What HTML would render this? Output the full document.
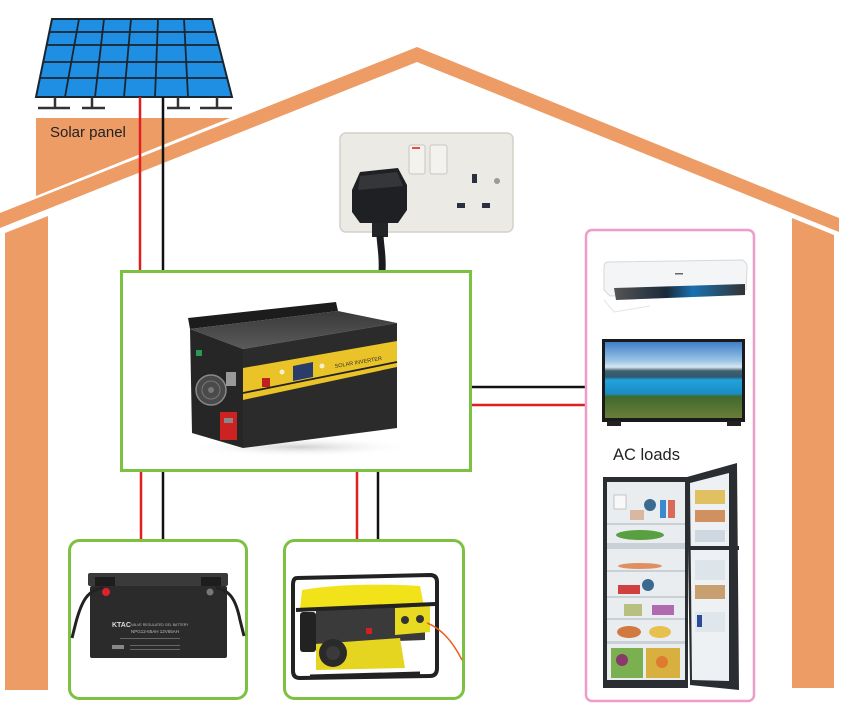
<!DOCTYPE html>
<html><head><meta charset="utf-8">
<style>
html,body{margin:0;padding:0;background:#fff;}
svg{display:block;}
text{font-family:"Liberation Sans",Arial,sans-serif;}
</style></head>
<body>
<svg width="852" height="714" viewBox="0 0 852 714" xmlns="http://www.w3.org/2000/svg">
<defs>
<linearGradient id="tv" x1="0" y1="0" x2="0" y2="1">
<stop offset="0" stop-color="#3f7fc8"/>
<stop offset="0.25" stop-color="#9cc6e6"/>
<stop offset="0.33" stop-color="#d8e8f0"/>
<stop offset="0.38" stop-color="#41606e"/>
<stop offset="0.46" stop-color="#2f5a70"/>
<stop offset="0.5" stop-color="#22a2dc"/>
<stop offset="0.68" stop-color="#1c8cc4"/>
<stop offset="0.72" stop-color="#3f6a2c"/>
<stop offset="1" stop-color="#6a7d3a"/>
</linearGradient>
<linearGradient id="acslot" x1="0" y1="0" x2="1" y2="0">
<stop offset="0" stop-color="#555"/>
<stop offset="0.4" stop-color="#1a2a3a"/>
<stop offset="0.6" stop-color="#1a70b0"/>
<stop offset="1" stop-color="#333"/>
</linearGradient>
<linearGradient id="top" x1="0" y1="0" x2="0" y2="1">
<stop offset="0" stop-color="#3a3a3a"/>
<stop offset="1" stop-color="#5a5a5a"/>
</linearGradient>
<radialGradient id="shadow" cx="0.5" cy="0.5" r="0.5">
<stop offset="0" stop-color="#cfcfcf"/>
<stop offset="1" stop-color="#ffffff" stop-opacity="0"/>
</radialGradient>
</defs>

<!-- house -->
<polygon points="36,118 230,118 36,196" fill="#EE9C66"/>
<polygon points="0,213 417,47 839,218 839,232 417,62 0,228" fill="#EE9C66"/>
<polygon points="5,233 48,216 48,690 5,690" fill="#EE9C66"/>
<polygon points="792,218 834,235 834,688 792,688" fill="#EE9C66"/>

<!-- solar panel -->
<polygon points="52,19 212,19 232,97 36,97" fill="#1E8FE3" stroke="#1b2530" stroke-width="2"/>
<g stroke="#1b2530" stroke-width="1.8">
<line x1="49.3" y1="32" x2="215.3" y2="32"/>
<line x1="46.7" y1="45" x2="218.7" y2="45"/>
<line x1="43.2" y1="62" x2="223" y2="62"/>
<line x1="39.9" y1="78" x2="227.1" y2="78"/>
<line x1="79" y1="19" x2="65" y2="97"/>
<line x1="104" y1="19" x2="95" y2="97"/>
<line x1="131" y1="19" x2="124" y2="97"/>
<line x1="158" y1="19" x2="155" y2="97"/>
<line x1="184" y1="19" x2="188" y2="97"/>
</g>
<g stroke="#333" stroke-width="2.5">
<line x1="55" y1="97" x2="55" y2="108"/><line x1="38" y1="108" x2="70" y2="108"/>
<line x1="92" y1="97" x2="92" y2="108"/><line x1="82" y1="108" x2="105" y2="108"/>
<line x1="178" y1="97" x2="178" y2="108"/><line x1="167" y1="108" x2="190" y2="108"/>
<line x1="217" y1="97" x2="217" y2="108"/><line x1="200" y1="108" x2="232" y2="108"/>
</g>
<text x="50" y="137" font-size="15" fill="#222">Solar panel</text>

<!-- wires -->
<g stroke-width="2.5">
<line x1="140" y1="97" x2="140" y2="271" stroke="#E02020"/>
<line x1="163" y1="97" x2="163" y2="271" stroke="#111"/>
<line x1="141" y1="471" x2="141" y2="540" stroke="#E02020"/>
<line x1="163" y1="471" x2="163" y2="540" stroke="#111"/>
<line x1="357" y1="471" x2="357" y2="540" stroke="#E02020"/>
<line x1="378" y1="471" x2="378" y2="540" stroke="#111"/>
<line x1="471" y1="387" x2="586" y2="387" stroke="#111"/>
<line x1="471" y1="405" x2="586" y2="405" stroke="#E02020"/>
</g>

<!-- socket -->
<rect x="340" y="133" width="173" height="99" rx="6" fill="#ECEAE5" stroke="#d3d0ca" stroke-width="1.5"/>
<rect x="409" y="145" width="16" height="29" rx="2" fill="#f3f2ef" stroke="#c9c6c0"/>
<rect x="412" y="147" width="8" height="2" fill="#e05040"/>
<rect x="430" y="145" width="17" height="29" rx="2" fill="#f3f2ef" stroke="#c9c6c0"/>
<rect x="472" y="174" width="5" height="9" fill="#2a3040"/>
<rect x="457" y="203" width="8" height="5" fill="#2a3040"/>
<rect x="482" y="203" width="8" height="5" fill="#2a3040"/>
<circle cx="497" cy="181" r="3" fill="#9a9a9a"/>
<path d="M352,190 L360,172 L398,168 L407,185 L407,210 L398,223 L360,223 L352,212 Z" fill="#1f2023"/>
<path d="M360,176 L397,172 L403,186 L358,190 Z" fill="#34363a"/>
<rect x="372" y="223" width="16" height="14" fill="#232427"/>
<path d="M380,236 C381,250 383,258 382,271" stroke="#1b1c1f" stroke-width="7" fill="none"/>

<!-- inverter box -->
<rect x="121.5" y="271.5" width="349" height="199" fill="none" stroke="#7DC142" stroke-width="3"/>
<ellipse cx="300" cy="447" rx="115" ry="10" fill="url(#shadow)"/>
<polygon points="188,318 336,302 338,311 190,329" fill="#1c1c1c"/>
<polygon points="190,329 338,311 397,323 243,349" fill="url(#top)"/>
<polygon points="190,329 243,349 243,448 192,433" fill="#262626"/>
<circle cx="211" cy="390" r="15" fill="#4a4a4a" stroke="#8a8a8a" stroke-width="1.5"/>
<circle cx="211" cy="390" r="9" fill="none" stroke="#777" stroke-width="1"/>
<circle cx="211" cy="390" r="3" fill="#777"/>
<rect x="220" y="412" width="17" height="28" fill="#cc2222"/>
<rect x="224" y="418" width="9" height="5" fill="#888"/>
<rect x="196" y="350" width="6" height="6" fill="#2a9a50"/>
<rect x="226" y="372" width="10" height="14" fill="#999"/>
<polygon points="243,349 397,323 397,428 243,448" fill="#2b2b2b"/>
<polygon points="243,368 397,341 397,367 243,400" fill="#E9C327"/>
<line x1="243" y1="393" x2="397" y2="362" stroke="#222" stroke-width="1.8"/>
<polygon points="293,366 313,362 313,377 293,381" fill="#2a3c6a"/>
<rect x="262" y="378" width="8" height="9" fill="#c02020"/>
<circle cx="282" cy="372" r="2.5" fill="#f5f0d0"/>
<circle cx="322" cy="366" r="2.5" fill="#f5f0d0"/>
<text x="335" y="368" font-size="5.5" fill="#333" font-family="Liberation Serif,serif" transform="rotate(-9.7 335 368)">SOLAR INVERTER</text>

<!-- battery box -->
<rect x="69.5" y="540.5" width="177" height="158" rx="10" fill="none" stroke="#7DC142" stroke-width="3"/>
<rect x="88" y="573" width="140" height="13" rx="2" fill="#3a3a3a"/>
<rect x="95" y="577" width="20" height="12" fill="#1d1d1d"/>
<rect x="201" y="577" width="20" height="12" fill="#1d1d1d"/>
<rect x="90" y="586" width="137" height="72" rx="2" fill="#2b2b2b"/>
<circle cx="106" cy="592" r="4" fill="#e02030"/>
<circle cx="210" cy="592" r="3.5" fill="#777"/>
<path d="M103,588 C88,590 82,600 76,622 L72,638" stroke="#222" stroke-width="3" fill="none"/>
<path d="M216,588 C230,590 236,600 240,620 L244,636" stroke="#222" stroke-width="3" fill="none"/>
<text x="112" y="627" font-size="7" font-weight="bold" fill="#ddd">KTAC</text>
<text x="131" y="626" font-size="3.5" fill="#bbb">VALVE REGULATED GEL BATTERY</text>
<text x="131" y="633" font-size="4.5" fill="#bbb">NPG12-65AH  12V65AH</text>
<rect x="120" y="638" width="60" height="1" fill="#666"/>
<rect x="112" y="645" width="12" height="4" fill="#888"/>
<rect x="130" y="645" width="50" height="1" fill="#666"/>
<rect x="130" y="649" width="50" height="1" fill="#666"/>

<!-- generator box -->
<rect x="284.5" y="540.5" width="179" height="158" rx="10" fill="none" stroke="#7DC142" stroke-width="3"/>
<path d="M302,590 Q350,582 420,586 L424,606 L300,610 Z" fill="#F2E21A"/>
<rect x="300" y="612" width="16" height="40" rx="3" fill="#222"/>
<polygon points="316,610 425,606 425,640 316,644" fill="#3a3a3a"/>
<polygon points="395,608 430,606 430,632 395,635" fill="#E8DA20"/>
<circle cx="405" cy="620" r="4" fill="#333"/>
<circle cx="420" cy="619" r="4" fill="#333"/>
<rect x="366" y="628" width="6" height="6" fill="#d02020"/>
<polygon points="316,644 400,638 405,668 316,670" fill="#E5D520"/>
<circle cx="333" cy="653" r="14" fill="#2a2a2a"/>
<circle cx="333" cy="653" r="7" fill="#3a3a3a"/>
<path d="M297,578 L430,575 Q437,575 437,582 L437,668 Q437,676 430,676 L300,678 Q293,678 293,671 L293,585 Q293,578 297,578 Z" fill="none" stroke="#222" stroke-width="4"/>
<line x1="296" y1="610" x2="435" y2="604" stroke="#222" stroke-width="4"/>
<line x1="310" y1="676" x2="420" y2="673" stroke="#222" stroke-width="3"/>
<path d="M427,623 C440,628 452,640 462,660" stroke="#E86020" stroke-width="1.5" fill="none"/>

<!-- AC loads box -->
<rect x="586" y="230" width="168" height="471" rx="6" fill="none" stroke="#EE9CC8" stroke-width="2.5"/>
<path d="M608,262 L742,260 Q748,262 747,270 L746,290 L610,296 L604,290 L604,268 Q604,262 608,262 Z" fill="#f4f5f6" stroke="#d6d8da"/>
<polygon points="614,288 745,284 745,295 616,300" fill="url(#acslot)"/>
<rect x="675" y="273" width="8" height="1.5" fill="#666"/>
<path d="M604,300 L614,312 L650,306" fill="none" stroke="#e2e4e6"/>
<rect x="602" y="339" width="143" height="83" fill="#1a1a1a"/>
<rect x="605" y="342" width="137" height="76" fill="url(#tv)"/>
<rect x="607" y="421" width="14" height="5" fill="#222"/>
<rect x="727" y="421" width="14" height="5" fill="#222"/>
<text x="613" y="460" font-size="16.5" fill="#222">AC loads</text>

<!-- fridge -->
<rect x="603" y="477" width="85" height="211" fill="#2a2d31"/>
<rect x="607" y="482" width="78" height="198" fill="#e9edf0"/>
<g fill="#c9d0d6">
<rect x="607" y="523" width="78" height="2"/>
<rect x="607" y="543" width="78" height="6"/>
<rect x="607" y="570" width="78" height="2"/>
<rect x="607" y="596" width="78" height="2"/>
<rect x="607" y="618" width="78" height="2"/>
<rect x="607" y="641" width="78" height="3"/>
</g>
<rect x="614" y="495" width="12" height="14" fill="#f8f8f8" stroke="#999" stroke-width="0.5"/>
<circle cx="650" cy="505" r="6" fill="#3a6a90"/>
<rect x="660" y="500" width="6" height="18" fill="#3b8ad0"/>
<rect x="668" y="500" width="7" height="18" fill="#d86a5a"/>
<rect x="630" y="510" width="14" height="10" fill="#d8b8a0"/>
<ellipse cx="640" cy="535" rx="24" ry="5" fill="#5aa040"/>
<ellipse cx="640" cy="566" rx="22" ry="3" fill="#e09060"/>
<rect x="618" y="585" width="22" height="9" fill="#d04040"/>
<circle cx="648" cy="585" r="6" fill="#3a6a90"/>
<rect x="624" y="604" width="18" height="12" fill="#b8c080"/>
<rect x="652" y="605" width="22" height="10" fill="#b06ab0"/>
<ellipse cx="629" cy="632" rx="12" ry="6" fill="#d07a40"/>
<ellipse cx="660" cy="632" rx="11" ry="6" fill="#e8c050"/>
<rect x="611" y="648" width="32" height="30" fill="#7ab050"/>
<rect x="646" y="648" width="34" height="30" fill="#d8b040"/>
<circle cx="622" cy="660" r="6" fill="#8a3a6a"/>
<circle cx="662" cy="662" r="6" fill="#e07a30"/>
<polygon points="687,477 737,463 739,690 690,685" fill="#2a2d31"/>
<polygon points="690,483 729,473 729,681 692,680" fill="#eef1f3"/>
<rect x="690" y="546" width="49" height="4" fill="#2a2d31"/>
<g fill="#e0c060"><rect x="695" y="490" width="30" height="14"/></g>
<g fill="#d09060"><rect x="695" y="510" width="30" height="12"/></g>
<g fill="#cfd8e0"><rect x="695" y="530" width="30" height="12"/></g>
<rect x="695" y="560" width="30" height="20" fill="#dde4ea"/>
<rect x="695" y="585" width="30" height="14" fill="#c8a070"/>
<rect x="695" y="612" width="30" height="20" fill="#dfe6ec"/>
<rect x="697" y="615" width="5" height="12" fill="#2a4a9a"/>
</svg>
</body></html>
